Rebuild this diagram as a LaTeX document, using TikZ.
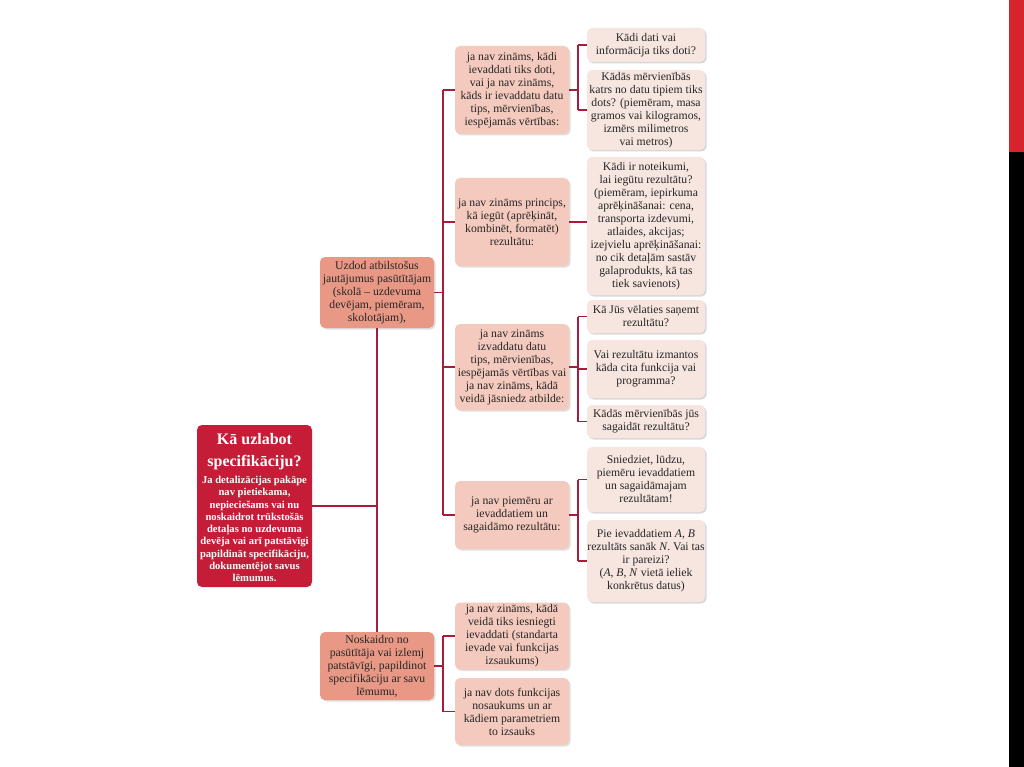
\documentclass[tikz,border=0pt]{standalone}
\usepackage{fontspec}
\setmainfont{Liberation Serif}
\usetikzlibrary{shadows}
\definecolor{rootred}{RGB}{197,28,56}
\definecolor{lone}{RGB}{233,152,134}
\definecolor{ltwo}{RGB}{245,202,190}
\definecolor{leaf}{RGB}{247,230,224}
\definecolor{wire}{RGB}{168,28,58}
\definecolor{barred}{RGB}{214,36,44}
\tikzset{
  box/.style={rounded corners=5pt, align=center, inner xsep=0pt, inner ysep=1pt, font=\fontsize{11.7}{13}\selectfont, text=black!85},
  rootbox/.style={box, fill=rootred, text=white, minimum width=115pt, minimum height=162pt},
  onebox/.style={box, fill=lone, minimum width=114pt, drop shadow={opacity=0.25, shadow xshift=1.5pt, shadow yshift=-1.5pt}},
  twobox/.style={box, fill=ltwo, minimum width=114pt, drop shadow={opacity=0.25, shadow xshift=1.5pt, shadow yshift=-1.5pt}},
  leafbox/.style={box, fill=leaf, minimum width=118pt, drop shadow={opacity=0.3, shadow xshift=1.5pt, shadow yshift=-1.5pt}},
  wireline/.style={draw=wire, line width=1.8pt}
}
\begin{document}
\begin{tikzpicture}[x=1pt,y=-1pt]
\useasboundingbox (0,0) rectangle (1024,767);
\fill[white] (0,0) rectangle (1024,767);
\fill[barred] (1009,0) rectangle (1024,152);
\fill[black] (1009,152) rectangle (1024,767);

% root
\node[rootbox] (root) at (254.5,506) {};
\node[font=\bfseries\fontsize{16}{22}\selectfont, text=white, align=center] (roottitle) at (254.5,452) {Kā uzlabot\\specifikāciju?};
\node[font=\bfseries\fontsize{10.6}{12.3}\selectfont, text=white, align=center, inner sep=0pt] (rootbody) at (254.5,529) {Ja detalizācijas pakāpe\\nav pietiekama,\\nepieciešams vai nu\\noskaidrot trūkstošās\\detaļas no uzdevuma\\devēja vai arī patstāvīgi\\papildināt specifikāciju,\\dokumentējot savus\\lēmumus.};

% level 1
\node[onebox, minimum height=71pt] (qa) at (377,292.5) {Uzdod atbilstošus\\jautājumus pasūtītājam\\(skolā – uzdevuma\\devējam, piemēram,\\skolotājam),};
\node[onebox, minimum height=68pt] (qb) at (377,666) {Noskaidro no\\pasūtītāja vai izlemj\\patstāvīgi, papildinot\\specifikāciju ar savu\\lēmumu,};

% level 2
\node[twobox, minimum height=88pt] (c1) at (512,90) {ja nav zināms, kādi\\ievaddati tiks doti,\\vai ja nav zināms,\\kāds ir ievaddatu datu\\tips, mērvienības,\\iespējamās vērtības:};
\node[twobox, minimum height=88pt] (c2) at (512,222) {ja nav zināms princips,\\kā iegūt (aprēķināt,\\kombinēt, formatēt)\\rezultātu:};
\node[twobox, minimum height=86pt] (c3) at (512,367) {ja nav zināms\\izvaddatu datu\\tips, mērvienības,\\iespējamās vērtības vai\\ja nav zināms, kādā\\veidā jāsniedz atbilde:};
\node[twobox, minimum height=68pt] (c4) at (512,515) {ja nav piemēru ar\\ievaddatiem un\\sagaidāmo rezultātu:};
\node[twobox, minimum height=67pt] (c5) at (512,636) {ja nav zināms, kādā\\veidā tiks iesniegti\\ievaddati (standarta\\ievade vai funkcijas\\izsaukums)};
\node[twobox, minimum height=67pt] (c6) at (512,711.5) {ja nav dots funkcijas\\nosaukums un ar\\kādiem parametriem\\to izsauks};

% leaves
\node[leafbox, minimum height=34pt] (l1) at (646,45) {Kādi dati vai\\informācija tiks doti?};
\node[leafbox, minimum height=80pt] (l2) at (646,110) {Kādās mērvienībās\\katrs no datu tipiem tiks\\dots? (piemēram, masa\\gramos vai kilogramos,\\izmērs milimetros\\vai metros)};
\node[leafbox, minimum height=138pt] (l3) at (646,226) {Kādi ir noteikumi,\\lai iegūtu rezultātu?\\(piemēram, iepirkuma\\aprēķināšanai: cena,\\transporta izdevumi,\\atlaides, akcijas;\\izejvielu aprēķināšanai:\\no cik detaļām sastāv\\galaprodukts, kā tas\\tiek savienots)};
\node[leafbox, minimum height=33pt] (l4) at (646,316.5) {Kā Jūs vēlaties saņemt\\rezultātu?};
\node[leafbox, minimum height=58pt] (l5) at (646,369) {Vai rezultātu izmantos\\kāda cita funkcija vai\\programma?};
\node[leafbox, minimum height=33pt] (l6) at (646,421.5) {Kādās mērvienībās jūs\\sagaidāt rezultātu?};
\node[leafbox, minimum height=65pt] (l7) at (646,479.5) {Sniedziet, lūdzu,\\piemēru ievaddatiem\\un sagaidāmajam\\rezultātam!};
\node[leafbox, minimum height=82pt] (l8) at (646,561) {Pie ievaddatiem \textit{A}, \textit{B}\\rezultāts sanāk \textit{N}. Vai tas\\ir pareizi?\\(\textit{A}, \textit{B}, \textit{N} vietā ieliek\\konkrētus datus)};

% junction coordinates
\coordinate (s0) at (root.east -| qa.south);
\coordinate (s1) at (443,292.5);
\coordinate (s2) at (443,666);
\coordinate (s3) at (578,90);
\coordinate (s4) at (578,367);
\coordinate (s5) at (578,515);

% connectors
\draw[wireline] (qa.south) -- (qb.north);
\draw[wireline] (root.east) -- (s0);
\draw[wireline] (qa.east) -- (s1);
\draw[wireline] (s1 |- c1.west) -- (s1 |- c4.west);
\foreach \n in {c1,c2,c3,c4} \draw[wireline] (s1 |- \n.west) -- (\n.west);
\draw[wireline] (qb.east) -- (s2);
\draw[wireline] (s2 |- c5.west) -- (s2 |- c6.west);
\foreach \n in {c5,c6} \draw[wireline] (s2 |- \n.west) -- (\n.west);
\draw[wireline] (c1.east) -- (s3);
\draw[wireline] (s3 |- l1.west) -- (s3 |- l2.west);
\foreach \n in {l1,l2} \draw[wireline] (s3 |- \n.west) -- (\n.west);
\draw[wireline] (c2.east) -- (l3.west |- c2.east);
\draw[wireline] (c3.east) -- (s4);
\draw[wireline] (s4 |- l4.west) -- (s4 |- l6.west);
\foreach \n in {l4,l5,l6} \draw[wireline] (s4 |- \n.west) -- (\n.west);
\draw[wireline] (c4.east) -- (s5);
\draw[wireline] (s5 |- l7.west) -- (s5 |- l8.west);
\foreach \n in {l7,l8} \draw[wireline] (s5 |- \n.west) -- (\n.west);
\end{tikzpicture}
\end{document}
